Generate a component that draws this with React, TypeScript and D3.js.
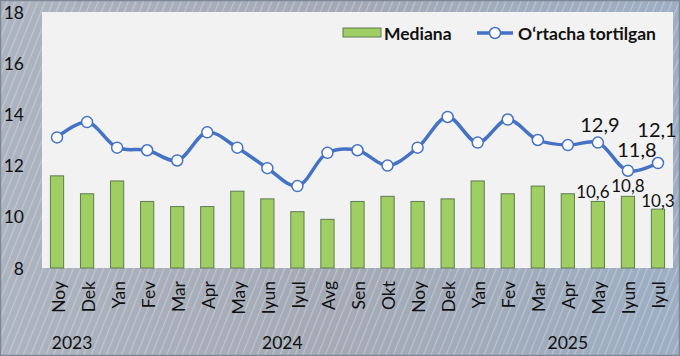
import React from "react";
import * as d3 from "d3";

const months = ["Noy","Dek","Yan","Fev","Mar","Apr","May","Iyun","Iyul","Avg","Sen","Okt","Noy","Dek","Yan","Fev","Mar","Apr","May","Iyun","Iyul"];
const mediana = [11.6,10.9,11.4,10.6,10.4,10.4,11.0,10.7,10.2,9.9,10.6,10.8,10.6,10.7,11.4,10.9,11.2,10.9,10.6,10.8,10.3];
const ortacha = [13.1,13.7,12.7,12.6,12.2,13.3,12.7,11.9,11.2,12.5,12.6,12.0,12.7,13.9,12.9,13.8,13.0,12.8,12.9,11.8,12.1];
const years = ["2023","2024","2025"];
const yearSpans = [[0,1],[2,13],[14,20]];
const yTicks = [8,10,12,14,16,18];
const seriesNames = ["Mediana","O‘rtacha tortilgan"];
const labeledIdx = [18,19,20];

const W = 680, H = 356;
const L = 42, R = 673, T = 12, B = 268;
const FONT = "Lato, 'Open Sans', sans-serif";
const fmt = (v: number) => v.toFixed(1).replace(".", ",");

export default function App() {
  const x = d3.scaleBand<number>().domain(months.map((_, i) => i)).range([L, R]).paddingInner(0.56).paddingOuter(0.28);
  const y = d3.scaleLinear().domain([8, 18]).range([B, T]);
  const cx = (i: number) => (x(i) as number) + x.bandwidth() / 2;
  const line = d3.line<number>().x((_, i) => cx(i)).y(d => y(d)).curve(d3.curveCatmullRom.alpha(0.5));
  const lineColor = "#4472c4";
  const barFill = "#9fcf62";
  const barStroke = "#5f7b52";

  const lineLabelOff: Record<number, [number, number]> = { 18: [2, -19], 19: [9, -22], 20: [-1, -34] };
  const barLabelOff: Record<number, [number, number]> = { 18: [-5, -10], 19: [0, -11], 20: [0, -9] };

  return (
    <svg width={W} height={H} style={{ display: "block", position: "absolute", left: 0, top: 0 }} fontFamily={FONT}>
      <defs>
        <linearGradient id="bg" x1="0" y1="0" x2="1" y2="0">
          <stop offset="0" stopColor="#acb4c0" />
          <stop offset="0.5" stopColor="#a4aab5" />
          <stop offset="1" stopColor="#9daec3" />
        </linearGradient>
        <pattern id="stripes" width="7" height="7" patternUnits="userSpaceOnUse" patternTransform="rotate(22)">
          <rect width="1.2" height="7" fill="#ffffff" opacity="0.28" />
        </pattern>
      </defs>
      <rect x={0} y={0} width={W} height={H} fill="url(#bg)" />
      <rect x={0} y={0} width={W} height={H} fill="url(#stripes)" />
      <rect x={0.5} y={0.5} width={W - 1} height={H - 1} fill="none" stroke="#7d8796" strokeWidth={1.5} />
      <rect x={L} y={T} width={R - L} height={B - T} fill="#f2f2f2" />

      {yTicks.map(t => (
        <text key={t} x={24} y={y(t)} textAnchor="end" dominantBaseline="central" fontSize={17.5} fill="#111">{t}</text>
      ))}

      {mediana.map((v, i) => (
        <rect key={i} x={x(i)} y={y(v)} width={x.bandwidth()} height={y(8) - y(v)} fill={barFill} stroke={barStroke} strokeWidth={1} />
      ))}

      <path d={line(ortacha) || ""} fill="none" stroke={lineColor} strokeWidth={3.5} strokeLinejoin="round" />
      {ortacha.map((v, i) => (
        <circle key={i} cx={cx(i)} cy={y(v)} r={5.5} fill="#fff" stroke={lineColor} strokeWidth={1.5} />
      ))}

      {labeledIdx.map(i => (
        <text key={"bl" + i} x={cx(i) + barLabelOff[i][0]} y={y(mediana[i]) + barLabelOff[i][1]} textAnchor="middle" dominantBaseline="central" fontSize={17} fill="#111">{fmt(mediana[i])}</text>
      ))}
      {labeledIdx.map(i => (
        <text key={"ll" + i} x={cx(i) + lineLabelOff[i][0]} y={y(ortacha[i]) + lineLabelOff[i][1]} textAnchor="middle" dominantBaseline="central" fontSize={20} fill="#111">{fmt(ortacha[i])}</text>
      ))}

      {months.map((m, i) => (
        <text key={"m" + i} transform={`translate(${cx(i) + 1},${281}) rotate(-90)`} textAnchor="end" dominantBaseline="central" fontSize={17.5} fill="#111">{m}</text>
      ))}

      {years.map((yr, k) => (
        <text key={yr} x={(cx(yearSpans[k][0]) + cx(yearSpans[k][1])) / 2} y={349} textAnchor="middle" fontSize={17.5} fill="#111">{yr}</text>
      ))}

      <g>
        <rect x={343} y={28} width={38} height={9} fill={barFill} stroke={barStroke} strokeWidth={1} />
        <text x={384} y={33} dominantBaseline="central" fontSize={17.5} fontWeight="bold" fill="#111">{seriesNames[0]}</text>
        <line x1={477} x2={513} y1={33} y2={33} stroke={lineColor} strokeWidth={3.5} />
        <circle cx={495} cy={33} r={5.5} fill="#fff" stroke={lineColor} strokeWidth={1.5} />
        <text x={518} y={33} dominantBaseline="central" fontSize={17.5} fontWeight="bold" fill="#111">{seriesNames[1]}</text>
      </g>
    </svg>
  );
}
